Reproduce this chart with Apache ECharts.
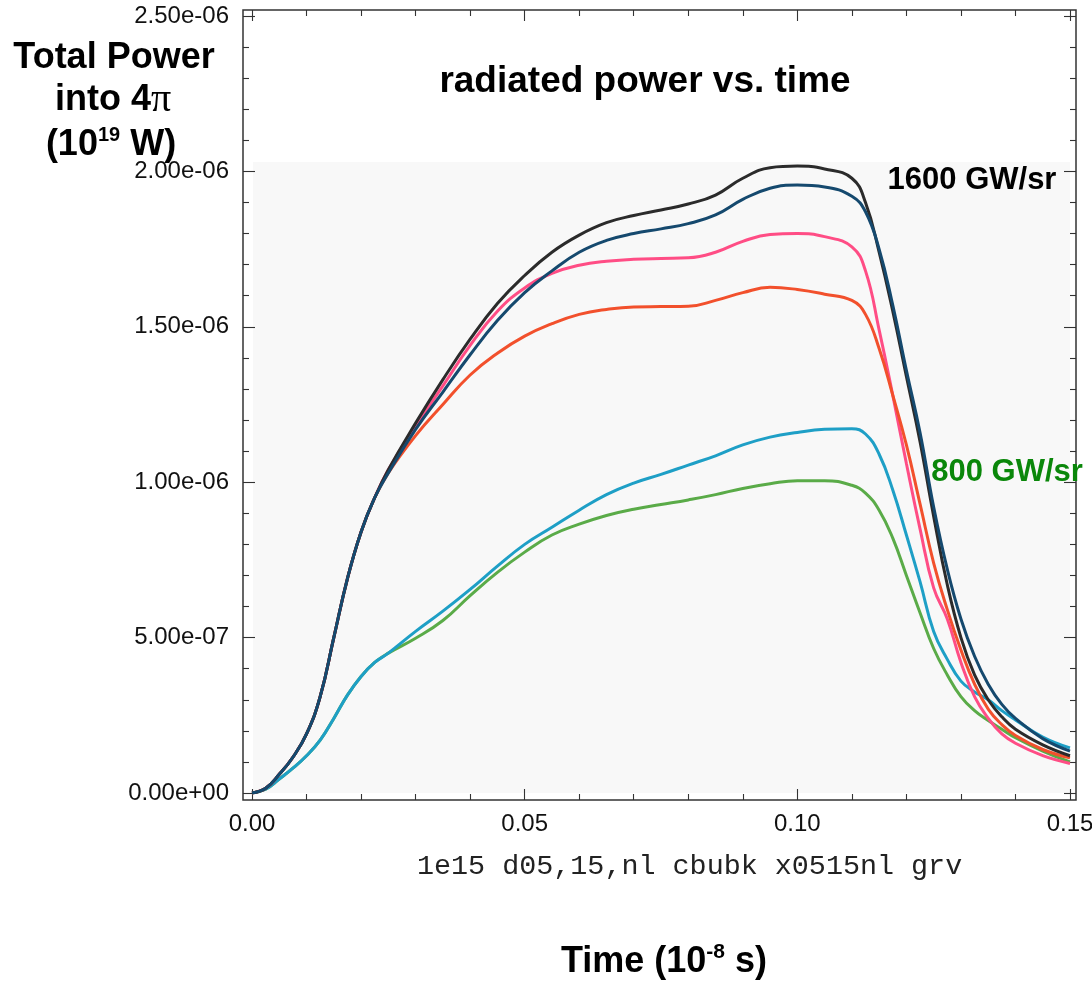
<!DOCTYPE html>
<html>
<head>
<meta charset="utf-8">
<title>radiated power vs. time</title>
<script src="https://cdn.jsdelivr.net/npm/echarts@6/dist/echarts.min.js"></script>
<style>
  html, body { margin: 0; padding: 0; background: #fff; }
  #chart { width: 1092px; height: 984px; }
</style>
</head>
<body>
<div id="chart"></div>
<script>
// time, in 1e-8 s
const times = [0, 0.0025, 0.005, 0.0075, 0.01, 0.0125, 0.015, 0.0175, 0.02, 0.0225, 0.025,
  0.03, 0.035, 0.04, 0.045, 0.05, 0.055, 0.06, 0.065, 0.07, 0.075, 0.08, 0.085, 0.09, 0.095,
  0.1, 0.105, 0.11, 0.1125, 0.115, 0.1175, 0.12, 0.1225, 0.125, 0.1275, 0.13, 0.1325, 0.135,
  0.1375, 0.14, 0.145, 0.15]

// power values, read in units of 1e-6
const POWER_UNIT = 1e-6
const powerBlack = [0, 0.015, 0.06, 0.115, 0.19, 0.31, 0.50, 0.69, 0.84, 0.95, 1.04,
  1.19, 1.33, 1.46, 1.575, 1.665, 1.74, 1.795, 1.835, 1.858, 1.876, 1.895, 1.924, 1.978, 2.012,
  2.017, 2.008, 1.978, 1.90, 1.74, 1.55, 1.34, 1.13, 0.89, 0.67, 0.50, 0.38, 0.30,
  0.245, 0.205, 0.155, 0.12]
const powerNavy = [0, 0.015, 0.06, 0.115, 0.19, 0.31, 0.50, 0.69, 0.84, 0.95, 1.03,
  1.17, 1.29, 1.41, 1.52, 1.61, 1.68, 1.74, 1.778, 1.80, 1.815, 1.832, 1.86, 1.91, 1.946,
  1.956, 1.95, 1.92, 1.87, 1.75, 1.57, 1.36, 1.16, 0.92, 0.72, 0.56, 0.44, 0.35,
  0.285, 0.24, 0.175, 0.135]
const powerPink = [0, 0.015, 0.06, 0.115, 0.19, 0.31, 0.50, 0.69, 0.84, 0.95, 1.04,
  1.18, 1.31, 1.44, 1.55, 1.625, 1.672, 1.698, 1.711, 1.717, 1.72, 1.722, 1.74, 1.775, 1.797,
  1.80, 1.79, 1.757, 1.68, 1.49, 1.28, 1.06, 0.85, 0.66, 0.56, 0.42, 0.31, 0.24,
  0.19, 0.16, 0.12, 0.095]
const powerRed = [0, 0.015, 0.06, 0.115, 0.19, 0.31, 0.50, 0.69, 0.84, 0.95, 1.03,
  1.15, 1.25, 1.345, 1.415, 1.47, 1.51, 1.54, 1.556, 1.564, 1.565, 1.566, 1.585, 1.61, 1.627,
  1.62, 1.605, 1.585, 1.54, 1.43, 1.28, 1.12, 0.93, 0.74, 0.59, 0.46, 0.35, 0.27,
  0.22, 0.185, 0.14, 0.113]
const powerCyan = [0, 0.012, 0.045, 0.08, 0.12, 0.17, 0.24, 0.315, 0.375, 0.42, 0.45,
  0.52, 0.585, 0.655, 0.73, 0.80, 0.855, 0.91, 0.96, 0.997, 1.025, 1.055, 1.085, 1.12, 1.145,
  1.16, 1.17, 1.172, 1.155, 1.09, 0.975, 0.83, 0.68, 0.52, 0.43, 0.36, 0.325, 0.30,
  0.265, 0.235, 0.18, 0.145]
const powerGreen = [0, 0.012, 0.045, 0.08, 0.12, 0.17, 0.24, 0.315, 0.375, 0.42, 0.45,
  0.498, 0.555, 0.635, 0.71, 0.775, 0.83, 0.865, 0.893, 0.913, 0.928, 0.943, 0.96, 0.98, 0.995,
  1.005, 1.005, 0.99, 0.965, 0.91, 0.82, 0.70, 0.58, 0.465, 0.38, 0.31, 0.265, 0.233,
  0.205, 0.178, 0.135, 0.10]

const timeTicks = { min: 0, max: 0.15, step: 0.05 }
const powerTicks = { min: 0, max: 2.5e-6, step: 0.5e-6 }

function expLabel(v) {
  // 2.50e-06 style
  return v.toExponential(2).replace(/e([+-])(\d)$/, (m, s, d) => 'e' + s + '0' + d)
}

function lineSeries(name, values, color, z) {
  return {
    name,
    type: 'line',
    data: times.map((t, i) => [t, values[i] * POWER_UNIT]),
    showSymbol: false,
    smooth: 0.45,
    lineStyle: { color, width: 3 },
    itemStyle: { color },
    z
  }
}

const tickStyle = { color: '#333', width: 1.1 }

function timeAxis(position, offset, labels) {
  return {
    type: 'value',
    gridIndex: 0,
    position,
    offset,
    min: timeTicks.min,
    max: timeTicks.max,
    interval: timeTicks.step,
    // onZero off, or the top axis snaps to y = 0
    axisLine: { show: false, onZero: false },
    axisTick: { inside: true, length: 11, lineStyle: tickStyle },
    minorTick: { show: true, splitNumber: 5, length: 6, lineStyle: tickStyle },
    splitLine: { show: false },
    minorSplitLine: { show: false },
    axisLabel: {
      show: labels,
      formatter: (v) => v.toFixed(2),
      fontSize: 24,
      fontFamily: 'Liberation Sans',
      color: '#111',
      margin: 12
    }
  }
}

function powerAxis(position, offset, labels) {
  return {
    type: 'value',
    gridIndex: 0,
    position,
    offset,
    min: powerTicks.min,
    max: powerTicks.max,
    interval: powerTicks.step,
    axisLine: { show: false, onZero: false },
    axisTick: { inside: true, length: 12, lineStyle: tickStyle },
    minorTick: { show: true, splitNumber: 5, length: 6, lineStyle: tickStyle },
    splitLine: { show: false },
    minorSplitLine: { show: false },
    axisLabel: {
      show: labels,
      formatter: expLabel,
      fontSize: 24,
      fontFamily: 'Liberation Sans',
      color: '#111',
      margin: 14
    }
  }
}

const bold = { fontFamily: 'Liberation Sans', fontWeight: 'bold', fill: '#000' }

const chart = echarts.init(document.getElementById('chart'), null, { renderer: 'canvas' })

chart.setOption({
  backgroundColor: '#fff',
  animation: false,
  grid: { left: 252, right: 22, top: 16, bottom: 191, outerBoundsMode: 'none' },
  xAxis: [timeAxis('bottom', 7, true), timeAxis('top', 6, false)],
  yAxis: [powerAxis('left', 9, true), powerAxis('right', 6, false)],
  series: [
    lineSeries('green', powerGreen, '#5aab48', 2),
    lineSeries('cyan', powerCyan, '#1e9fc6', 3),
    lineSeries('pink', powerPink, '#ff4d85', 4),
    lineSeries('red', powerRed, '#f2502c', 5),
    lineSeries('black', powerBlack, '#2b2b2b', 6),
    lineSeries('navy', powerNavy, '#15496e', 7)
  ],
  graphic: [
    // faint scan background inside the frame
    { type: 'rect', z: -1, silent: true, shape: { x: 253, y: 162, width: 817, height: 631 }, style: { fill: '#f8f8f8' } },
    { type: 'rect', z: 1, silent: true, shape: { x: 243, y: 10, width: 833, height: 790 }, style: { fill: 'none', stroke: '#333', lineWidth: 1.5 } },
    { type: 'text', x: 645, y: 82, z: 10, style: { ...bold, text: 'radiated power vs. time', fontSize: 37, align: 'center', verticalAlign: 'middle' } },
    { type: 'text', x: 114, y: 58, z: 10, style: { ...bold, text: 'Total Power', fontSize: 36, align: 'center', verticalAlign: 'middle' } },
    {
      type: 'text', x: 113, y: 100, z: 10,
      style: {
        ...bold, text: 'into 4{pi|π}', fontSize: 36, align: 'center', verticalAlign: 'middle',
        rich: { pi: { fontFamily: 'Liberation Serif', fontWeight: 'normal', fontSize: 40, fill: '#000' } }
      }
    },
    {
      type: 'text', x: 111, y: 145, z: 10,
      style: {
        ...bold, text: '{n|(10}{sup|19}{n| W)}', fontSize: 36, align: 'center', verticalAlign: 'middle',
        rich: {
          n: { ...bold, fontSize: 36, lineHeight: 40 },
          sup: { ...bold, fontSize: 20, lineHeight: 28, verticalAlign: 'top' }
        }
      }
    },
    { type: 'text', x: 972, y: 180, z: 10, style: { ...bold, text: '1600 GW/sr', fontSize: 31, align: 'center', verticalAlign: 'middle' } },
    { type: 'text', x: 1007, y: 472, z: 10, style: { ...bold, text: '800 GW/sr', fontSize: 31, fill: '#0a870a', align: 'center', verticalAlign: 'middle' } },
    { type: 'text', x: 417, y: 866, z: 10, style: { text: '1e15 d05,15,nl cbubk x0515nl grv', fontFamily: 'Liberation Mono', fontSize: 28.4, fill: '#222', align: 'left', verticalAlign: 'middle' } },
    {
      type: 'text', x: 664, y: 962, z: 10,
      style: {
        ...bold, text: '{n|Time (10}{sup|-8}{n| s)}', fontSize: 36, align: 'center', verticalAlign: 'middle',
        rich: {
          n: { ...bold, fontSize: 36, lineHeight: 40 },
          sup: { ...bold, fontSize: 21, lineHeight: 28, verticalAlign: 'top' }
        }
      }
    }
  ]
})

window.addEventListener('resize', () => chart.resize())
</script>
</body>
</html>
